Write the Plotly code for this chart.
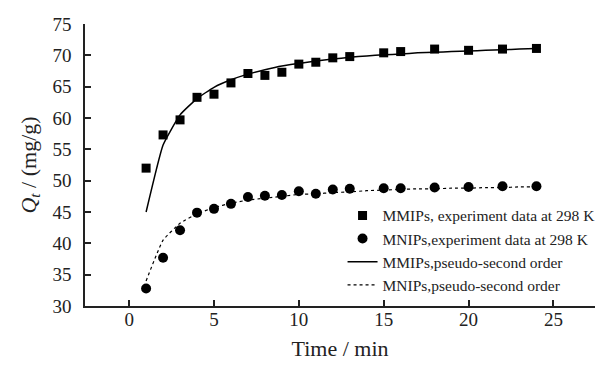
import plotly.graph_objects as go

# Experimental data
t_mmip = [1, 2, 3, 4, 5, 6, 7, 8, 9, 10, 11, 12, 13, 15, 16, 18, 20, 22, 24]
q_mmip = [52.0, 57.3, 59.7, 63.3, 63.8, 65.6, 67.1, 66.8, 67.3, 68.6, 68.9, 69.6, 69.8, 70.4, 70.6, 71.0, 70.8, 71.0, 71.1]

t_mnip = [1, 2, 3, 4, 5, 6, 7, 8, 9, 10, 11, 12, 13, 15, 16, 18, 20, 22, 24]
q_mnip = [32.8, 37.7, 42.1, 44.9, 45.5, 46.3, 47.4, 47.6, 47.7, 48.3, 47.9, 48.6, 48.7, 48.8, 48.8, 48.9, 49.0, 49.1, 49.1]

# Pseudo-second order fitted curves
t_fit = [1, 2, 3, 4, 5, 6, 7, 8, 9, 10, 11, 12, 13, 14, 15, 16, 17, 18, 19, 20, 21, 22, 23, 24]
q_fit_mmip = [45.0, 55.7, 60.5, 63.1, 64.9, 66.1, 67.0, 67.7, 68.3, 68.7, 69.1, 69.4, 69.7, 69.9, 70.1, 70.2, 70.4, 70.5, 70.6, 70.7, 70.8, 70.9, 71.0, 71.1]
q_fit_mnip = [34.0, 40.5, 43.2, 44.7, 45.7, 46.4, 46.9, 47.2, 47.5, 47.8, 47.9, 48.1, 48.2, 48.4, 48.5, 48.6, 48.7, 48.7, 48.8, 48.8, 48.9, 48.9, 49.0, 49.0]

x_ticks = [0, 5, 10, 15, 20, 25]
y_ticks = [30, 35, 40, 45, 50, 55, 60, 65, 70, 75]

FONT = "Liberation Serif, Times New Roman, serif"
INK = "#222222"

fig = go.Figure()
fig.add_trace(go.Scatter(x=t_mmip, y=q_mmip, mode="markers",
                         marker=dict(symbol="square", size=9, color="black"),
                         name="MMIPs, experiment data at 298 K"))
fig.add_trace(go.Scatter(x=t_mnip, y=q_mnip, mode="markers",
                         marker=dict(symbol="circle", size=10, color="black"),
                         name="MNIPs,experiment data at 298 K"))
fig.add_trace(go.Scatter(x=t_fit, y=q_fit_mmip, mode="lines",
                         line=dict(color="black", width=1.5, shape="spline", smoothing=0.4),
                         name="MMIPs,pseudo-second order"))
fig.add_trace(go.Scatter(x=t_fit, y=q_fit_mnip, mode="lines",
                         line=dict(color="black", width=1.2, dash="dot", shape="spline", smoothing=0.4),
                         name="MNIPs,pseudo-second order"))

axis_common = dict(showgrid=False, zeroline=False, showline=True, linecolor=INK, linewidth=1.5,
                   ticks="inside", ticklen=6, tickwidth=1.5, tickcolor=INK, automargin=False,
                   tickfont=dict(family=FONT, size=19, color=INK), mirror=False)

fig.update_layout(
    width=597, height=367,
    margin=dict(l=85, r=2, t=24, b=61, autoexpand=False),
    font=dict(family=FONT, size=19, color=INK),
    paper_bgcolor="white", plot_bgcolor="white",
    showlegend=True,
    legend=dict(x=0.505, y=0.38, xanchor="left", yanchor="top",
                bgcolor="rgba(0,0,0,0)", font=dict(family=FONT, size=15.5, color=INK),
                tracegroupgap=0, itemwidth=30),
    xaxis=dict(range=[-2.6, 27.45], tickvals=x_ticks, ticklabelstandoff=-5,
               title=dict(text="Time / min", font=dict(family=FONT, size=22, color=INK), standoff=12),
               **axis_common),
    yaxis=dict(range=[30, 75], tickvals=y_ticks, ticklabelstandoff=8,
               title=dict(text="<i>Q</i><sub><i>t</i></sub> / (mg/g)", font=dict(family=FONT, size=22, color=INK), standoff=10),
               **axis_common),
)

fig.write_html("out.html", config={"displayModeBar": False},
               post_script="document.body.style.margin='0';document.body.style.overflow='hidden';")
